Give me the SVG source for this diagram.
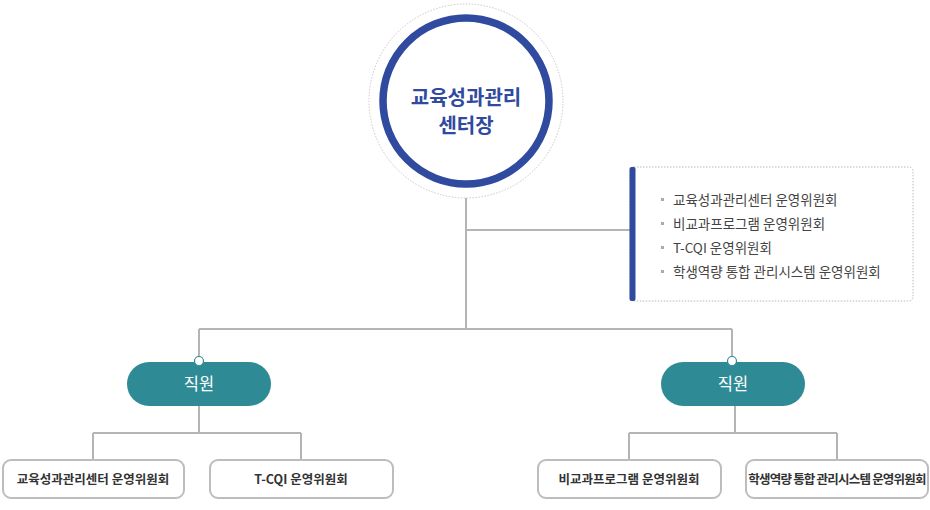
<svg xmlns="http://www.w3.org/2000/svg" width="930" height="510" viewBox="0 0 930 510">
<style>
.ln{fill:none;stroke:#b4b4b4;stroke-width:2}
.pill{fill:#2e8b96}
.pt{font-family:"Noto Sans CJK KR","Noto Sans",sans-serif;font-size:16.5px;fill:#fff;text-anchor:middle}
.bx{fill:#fff;stroke:#bdbdbd;stroke-width:2}
.bt{font-family:"Noto Sans CJK KR","Noto Sans",sans-serif;font-size:12.5px;font-weight:bold;fill:#333;text-anchor:middle}
.li{font-family:"Noto Sans CJK KR","Noto Sans",sans-serif;font-size:13.5px;fill:#444}
.bul{fill:#aaa}
.dot{fill:#fff;stroke:#2e8b96;stroke-width:1.2}
</style>
<rect width="930" height="510" fill="#fff"/>
<g id="connectors">
<path class="ln" d="M466 198V329M466 230H630M199 329H732M199 329V362M732 329V362M199 406V433M93 433H301M93 433V460M301 433V460M735 406V433M629 433H837M629 433V460M837 433V460"/>
</g>
<g id="center">
<circle cx="466" cy="101" r="97" fill="#fff" stroke="#c8c8c8" stroke-width="1" stroke-dasharray="1.5 1.5"/>
<circle cx="466" cy="101" r="83" fill="#fff" stroke="#2f4a9e" stroke-width="7.5"/>
<text x="466" y="105" font-family="Noto Sans CJK KR, Noto Sans, sans-serif" font-size="20" font-weight="bold" fill="#2f4a9e" text-anchor="middle">교육성과관리</text>
<text x="466" y="133" font-family="Noto Sans CJK KR, Noto Sans, sans-serif" font-size="20" font-weight="bold" fill="#2f4a9e" text-anchor="middle">센터장</text>
</g>
<g id="committees">
<rect x="630" y="167" width="283" height="134" rx="4" fill="#fff" stroke="#bbb" stroke-width="1" stroke-dasharray="1.5 1.5"/>
<rect x="629.5" y="167" width="6" height="134" rx="2" fill="#2f4a9e"/>
<rect class="bul" x="661" y="198" width="3" height="3"/>
<text class="li" x="673" y="205">교육성과관리센터 운영위원회</text>
<rect class="bul" x="661" y="222" width="3" height="3"/>
<text class="li" x="673" y="229">비교과프로그램 운영위원회</text>
<rect class="bul" x="661" y="246" width="3" height="3"/>
<text class="li" x="673" y="253">T-CQI 운영위원회</text>
<rect class="bul" x="661" y="270" width="3" height="3"/>
<text class="li" x="673" y="277">학생역량 통합 관리시스템 운영위원회</text>
</g>
<g id="staff-left">
<rect class="pill" x="127" y="362" width="144" height="44" rx="22"/>
<circle class="dot" cx="199" cy="361" r="4.5"/>
<text class="pt" x="199" y="390">직원</text>
</g>
<g id="staff-right">
<rect class="pill" x="661" y="362" width="144" height="44" rx="22"/>
<circle class="dot" cx="732" cy="361" r="4.5"/>
<text class="pt" x="733" y="390">직원</text>
</g>
<g id="box1">
<rect class="bx" x="3" y="460" width="181" height="38" rx="8"/>
<text class="bt" x="93" y="484">교육성과관리센터 운영위원회</text>
</g>
<g id="box2">
<rect class="bx" x="210" y="460" width="183" height="38" rx="8"/>
<text class="bt" x="301" y="484">T-CQI 운영위원회</text>
</g>
<g id="box3">
<rect class="bx" x="538" y="460" width="183" height="38" rx="8"/>
<text class="bt" x="629" y="484">비교과프로그램 운영위원회</text>
</g>
<g id="box4">
<rect class="bx" x="746" y="460" width="182" height="38" rx="8"/>
<text class="bt" x="837" y="484" font-size="12" letter-spacing="-0.8">학생역량 통합 관리시스템 운영위원회</text>
</g>
</svg>
